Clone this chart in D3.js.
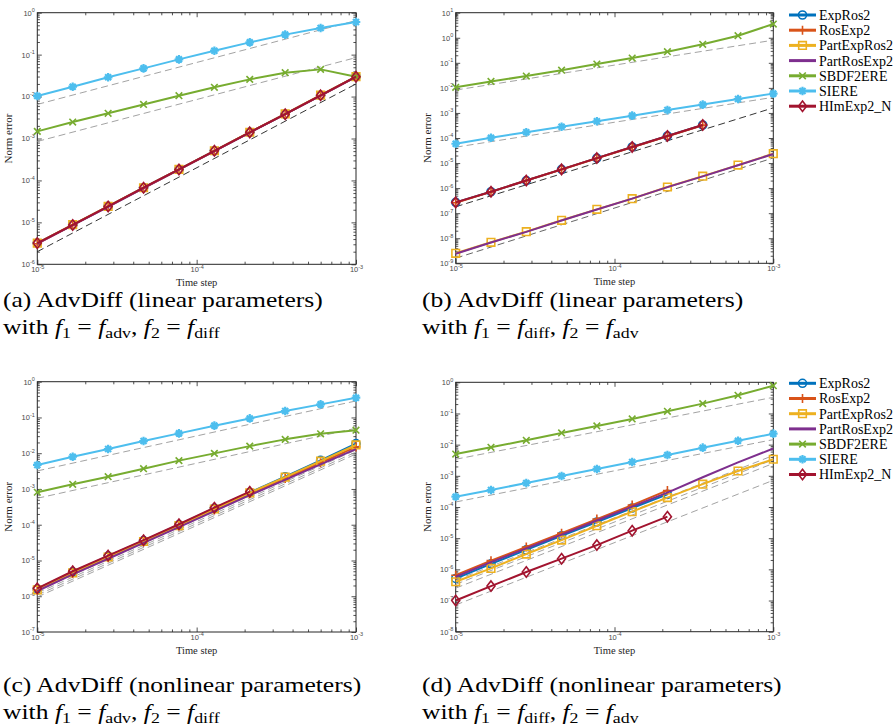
<!DOCTYPE html>
<html>
<head>
<meta charset="utf-8">
<script src="https://cdn.jsdelivr.net/npm/d3@7"></script>
<style>
  body { margin: 0; background: #fff; }
  svg { display: block; }
</style>
</head>
<body>
<svg id="svg" width="896" height="726"></svg>
<script>
// time steps (10 runs, log-spaced between 1e-5 and 1e-3)
const hSteps = [1e-5, 1.668e-5, 2.783e-5, 4.642e-5, 7.743e-5, 1.292e-4, 2.154e-4, 3.594e-4, 5.995e-4, 1e-3];
const hRange = [1e-5, 1e-3];

const methods = ["ExpRos2", "RosExp2", "PartExpRos2", "PartRosExp2", "SBDF2ERE", "SIERE", "HImExp2_N"];
const colors  = ["#0072BD", "#D95319", "#EDB120", "#7E2F8E", "#77AC30", "#4DBEEE", "#A2142F"];
const markers = ["circle", "plus", "square", "none", "cross", "star", "diamond"];

// norm errors, one row per method (same order as methods); short rows = runs that stopped
const errA = [
  [3.2e-6, 8.7e-6, 2.4e-5, 6.7e-5, 1.83e-4, 5.1e-4, 1.4e-3, 3.8e-3, 1.07e-2, 2.98e-2],
  [3.1e-6, 8.6e-6, 2.4e-5, 6.6e-5, 1.82e-4, 5.0e-4, 1.4e-3, 3.8e-3, 1.06e-2, 2.95e-2],
  [3.2e-6, 8.8e-6, 2.4e-5, 6.7e-5, 1.84e-4, 5.1e-4, 1.41e-3, 3.85e-3, 1.08e-2, 3.0e-2],
  [3.1e-6, 8.6e-6, 2.35e-5, 6.6e-5, 1.8e-4, 5.0e-4, 1.38e-3, 3.8e-3, 1.05e-2, 2.95e-2],
  [1.48e-3, 2.47e-3, 3.98e-3, 6.5e-3, 1.05e-2, 1.66e-2, 2.57e-2, 3.7e-2, 4.45e-2, 2.98e-2],
  [1.03e-2, 1.72e-2, 2.88e-2, 4.7e-2, 7.7e-2, 0.124, 0.196, 0.30, 0.43, 0.60],
  [3.2e-6, 8.7e-6, 2.4e-5, 6.7e-5, 1.83e-4, 5.1e-4, 1.4e-3, 3.8e-3, 1.07e-2, 2.98e-2]
];
const errB = [
  [2.7e-7, 7.2e-7, 2.0e-6, 5.6e-6, 1.58e-5, 4.4e-5, 1.2e-4, 3.3e-4],
  [2.6e-7, 7.1e-7, 2.0e-6, 5.5e-6, 1.55e-5, 4.3e-5, 1.18e-4, 3.25e-4],
  [2.5e-9, 6.9e-9, 1.83e-8, 5.2e-8, 1.42e-7, 3.8e-7, 1.11e-6, 3.0e-6, 8.3e-6, 2.37e-5],
  [2.4e-9, 6.8e-9, 1.8e-8, 5.1e-8, 1.4e-7, 3.8e-7, 1.1e-6, 2.95e-6, 8.2e-6, 2.3e-5],
  [1.05e-2, 1.8e-2, 2.96e-2, 5.1e-2, 8.9e-2, 0.155, 0.278, 0.546, 1.21, 3.53],
  [5.9e-5, 1.03e-4, 1.69e-4, 2.8e-4, 4.65e-4, 7.8e-4, 1.3e-3, 2.15e-3, 3.6e-3, 5.9e-3],
  [2.7e-7, 7.2e-7, 2.0e-6, 5.6e-6, 1.58e-5, 4.4e-5, 1.2e-4, 3.3e-4]
];
const errC = [
  [1.6e-6, 4.8e-6, 1.32e-5, 3.6e-5, 1.0e-4, 2.9e-4, 8.0e-4, 2.2e-3, 6.3e-3, 1.85e-2],
  [1.5e-6, 4.4e-6, 1.2e-5, 3.3e-5, 9.2e-5, 2.6e-4, 7.3e-4, 1.95e-3, 5.4e-3, 1.5e-2],
  [1.5e-6, 4.5e-6, 1.25e-5, 3.4e-5, 9.5e-5, 2.75e-4, 7.8e-4, 2.15e-3, 6.0e-3, 1.7e-2],
  [1.4e-6, 4.1e-6, 1.12e-5, 3.1e-5, 8.6e-5, 2.4e-4, 6.7e-4, 1.8e-3, 4.9e-3, 1.3e-2],
  [8.1e-4, 1.35e-3, 2.2e-3, 3.7e-3, 6.2e-3, 9.9e-3, 1.58e-2, 2.44e-2, 3.5e-2, 4.4e-2],
  [4.7e-3, 7.99e-3, 1.31e-2, 2.19e-2, 3.59e-2, 5.9e-2, 9.4e-2, 0.151, 0.232, 0.357],
  [1.66e-6, 5.0e-6, 1.37e-5, 3.7e-5, 1.03e-4, 3.0e-4, 8.4e-4]
];
const errD = [
  [5.1e-7, 1.5e-6, 4.2e-6, 1.2e-5, 3.3e-5, 9.3e-5, 2.55e-4],
  [6.5e-7, 1.9e-6, 5.2e-6, 1.45e-5, 4.1e-5, 1.15e-4, 3.4e-4],
  [4.0e-7, 1.07e-6, 3.1e-6, 8.7e-6, 2.5e-5, 7.1e-5, 2.0e-4, 5.4e-4, 1.43e-3, 3.4e-3],
  [5.8e-7, 1.7e-6, 4.7e-6, 1.3e-5, 3.7e-5, 1.03e-4, 2.9e-4, 9.0e-4, 2.7e-3, 7.5e-3],
  [5.0e-3, 8.2e-3, 1.38e-2, 2.37e-2, 3.98e-2, 6.67e-2, 0.117, 0.207, 0.383, 0.78],
  [2.14e-4, 3.5e-4, 5.9e-4, 9.9e-4, 1.66e-3, 2.78e-3, 4.67e-3, 8.0e-3, 1.34e-2, 2.25e-2],
  [1.0e-7, 2.9e-7, 8.2e-7, 2.2e-6, 6.0e-6, 1.74e-5, 4.9e-5]
];

// dashed reference slopes: error at h=1e-5 and at h=1e-3
const refA = [[6.5e-3, 0.65], [8.5e-4, 0.085], [2.0e-6, 2.0e-2]];
const refB = [[8.2e-3, 0.8], [4.3e-5, 4.2e-3], [1.8e-7, 1.6e-3], [1.6e-9, 1.6e-5]];
const refC = [[3.2e-3, 0.29], [5.5e-4, 0.05], [9.5e-7, 9.5e-3], [1.08e-6, 1.08e-2], [1.23e-6, 1.23e-2], [1.4e-6, 1.4e-2]];
const refD = [[3.4e-3, 0.33], [1.45e-4, 1.45e-2], [4.5e-7, 4.5e-3], [3.3e-7, 3.3e-3], [2.5e-7, 2.5e-3], [7.2e-8, 7.2e-4]];

const captionTitles = ["(a) AdvDiff (linear parameters)", "(b) AdvDiff (linear parameters)",
                       "(c) AdvDiff (nonlinear parameters)", "(d) AdvDiff (nonlinear parameters)"];
const captionSubs = [["adv", "diff"], ["diff", "adv"], ["adv", "diff"], ["diff", "adv"]];

// panel layout
const panels = [
  {err: errA, ref: refA, refShade: ["#999", "#999", "#1e1e1e"], left: 37.3, right: 356, top: 12.7, bottom: 264.3, yLo: -6, yHi: 0, legend: null, cx: 3, cy: 307},
  {err: errB, ref: refB, refShade: ["#999", "#999", "#1e1e1e", "#555"], left: 455.7, right: 773.3, top: 12.7, bottom: 263.3, yLo: -9, yHi: 1, legend: 15, cx: 422, cy: 307},
  {err: errC, ref: refC, refShade: ["#999", "#999", "#999", "#999", "#999", "#999"], left: 37.3, right: 356, top: 381.7, bottom: 632, yLo: -7, yHi: 0, legend: null, cx: 3, cy: 692},
  {err: errD, ref: refD, refShade: ["#999", "#999", "#999", "#999", "#999", "#999"], left: 455.7, right: 773.3, top: 382.3, bottom: 631.7, yLo: -8, yHi: 0, legend: 383.3, cx: 422, cy: 692}
];

const svg = d3.select("#svg");
const SERIF = "'Liberation Serif', 'Times New Roman', serif";
const SANS = "'Liberation Sans', Arial, sans-serif";

function markerPath(type) {
  switch (type) {
    case "circle": return "M4,0A4,4 0 1,1 -4,0A4,4 0 1,1 4,0Z";
    case "square": return "M-3.8,-3.8H3.8V3.8H-3.8Z";
    case "diamond": return "M0,-5.2L4,0L0,5.2L-4,0Z";
    case "plus": return "M-4.5,0H4.5M0,-4.5V4.5";
    case "cross": return "M-3.3,-3.3L3.3,3.3M-3.3,3.3L3.3,-3.3";
    case "star": return "M-4.3,0H4.3M0,-4.3V4.3M-3,-3L3,3M-3,3L3,-3";
  }
  return null;
}

function drawMarker(g, type, color, px, py) {
  const d = markerPath(type);
  if (!d) return;
  g.append("path")
    .attr("d", d)
    .attr("transform", "translate(" + px + "," + py + ")")
    .attr("fill", "none")
    .attr("stroke", color)
    .attr("stroke-width", type === "star" ? 2.2 : 1.6);
}

function decades(lo, hi) {
  return d3.range(lo, hi + 1).map(e => Math.pow(10, e));
}
function minors(lo, hi) {
  const out = [];
  for (let e = lo; e < hi; e++) for (let k = 2; k <= 9; k++) out.push(k * Math.pow(10, e));
  return out;
}

function supLabels(sel) {
  sel.each(function (d) {
    const t = d3.select(this).text(null);
    t.append("tspan").text("10");
    t.append("tspan").attr("dy", -3.5).attr("font-size", "5.5px").text(Math.round(Math.log10(d)));
  });
}

function drawPanel(p) {
  const x = d3.scaleLog().domain(hRange).range([p.left, p.right]);
  const y = d3.scaleLog().domain([Math.pow(10, p.yLo), Math.pow(10, p.yHi)]).range([p.bottom, p.top]);
  const g = svg.append("g");
  const w = p.right - p.left, h = p.bottom - p.top;

  // axes: major + minor ticks on all four sides, pointing inward
  const xMaj = decades(-5, -3), xMin = minors(-5, -3);
  const yMaj = decades(p.yLo, p.yHi), yMin = minors(p.yLo, p.yHi);
  const axes = [
    [d3.axisBottom(x).tickValues(xMaj).tickSizeInner(-4.5), "translate(0," + p.bottom + ")", true],
    [d3.axisBottom(x).tickValues(xMin).tickSizeInner(-2.6).tickFormat(""), "translate(0," + p.bottom + ")", false],
    [d3.axisTop(x).tickValues(xMaj).tickSizeInner(-4.5).tickFormat(""), "translate(0," + p.top + ")", false],
    [d3.axisTop(x).tickValues(xMin).tickSizeInner(-2.6).tickFormat(""), "translate(0," + p.top + ")", false],
    [d3.axisLeft(y).tickValues(yMaj).tickSizeInner(-4.5), "translate(" + p.left + ",0)", true],
    [d3.axisLeft(y).tickValues(yMin).tickSizeInner(-2.6).tickFormat(""), "translate(" + p.left + ",0)", false],
    [d3.axisRight(y).tickValues(yMaj).tickSizeInner(-4.5).tickFormat(""), "translate(" + p.right + ",0)", false],
    [d3.axisRight(y).tickValues(yMin).tickSizeInner(-2.6).tickFormat(""), "translate(" + p.right + ",0)", false]
  ];
  axes.forEach(([ax, tr, labelled]) => {
    const a = g.append("g").attr("transform", tr)
      .call(ax.tickSizeOuter(0).tickPadding(2.5))
      .attr("font-family", SANS).attr("font-size", "7.5px");
    a.select(".domain").remove();
    a.selectAll("line").attr("stroke", "#262626").attr("stroke-width", 0.8);
    a.selectAll("text").attr("fill", "#4a4a4a");
    if (labelled) a.selectAll("text").call(supLabels);
  });

  g.append("rect")
    .attr("x", p.left).attr("y", p.top).attr("width", w).attr("height", h)
    .attr("fill", "none").attr("stroke", "#262626").attr("stroke-width", 1);

  // reference slopes
  p.ref.forEach((r, i) => {
    g.append("line")
      .attr("x1", x(hRange[0])).attr("y1", y(r[0]))
      .attr("x2", x(hRange[1])).attr("y2", y(r[1]))
      .attr("stroke", p.refShade[i]).attr("stroke-width", 0.9)
      .attr("stroke-dasharray", "7,4");
  });

  // series
  const line = d3.line().x(d => x(d[0])).y(d => y(d[1]));
  p.err.forEach((vals, m) => {
    const pts = vals.map((v, i) => [hSteps[i], v]);
    g.append("path")
      .attr("d", line(pts))
      .attr("fill", "none")
      .attr("stroke", colors[m])
      .attr("stroke-width", 2)
      .attr("stroke-linejoin", "round");
    pts.forEach(pt => drawMarker(g, markers[m], colors[m], x(pt[0]), y(pt[1])));
  });

  // axis labels
  g.append("text")
    .attr("transform", "translate(" + (p.left - 25) + "," + ((p.top + p.bottom) / 2) + ") rotate(-90)")
    .attr("text-anchor", "middle").attr("font-family", SERIF).attr("font-size", "11px")
    .attr("fill", "#262626").text("Norm error");
  g.append("text")
    .attr("x", (p.left + p.right) / 2).attr("y", p.bottom + 22)
    .attr("text-anchor", "middle").attr("font-family", SERIF).attr("font-size", "10.5px")
    .attr("fill", "#262626").text("Time step");

  // legend
  if (p.legend !== null) {
    const lg = svg.append("g");
    methods.forEach((name, m) => {
      const ly = p.legend + m * 15.2;
      lg.append("line").attr("x1", 789).attr("x2", 816).attr("y1", ly).attr("y2", ly)
        .attr("stroke", colors[m]).attr("stroke-width", 3);
      drawMarker(lg, markers[m], colors[m], 802.5, ly);
      lg.append("text").attr("x", 819).attr("y", ly).attr("dy", "0.35em")
        .attr("font-family", SERIF).attr("font-size", "14px").attr("fill", "#000").text(name);
    });
  }
}

function drawCaption(i, p) {
  const g = svg.append("g")
    .attr("transform", "translate(" + p.cx + "," + p.cy + ") scale(1.19,1)")
    .attr("font-family", SERIF).attr("font-size", "21.5px").attr("fill", "#000");
  g.append("text").text(captionTitles[i]);
  const t = g.append("text").attr("y", 27);
  // pieces of "with f1 = f_a, f2 = f_b": [text, italic, shift]
  const pieces = [
    ["with ", false, 0], ["f", true, 0], ["1", false, 4],
    [" = ", false, -4], ["f", true, 0], [captionSubs[i][0], false, 4],
    [", ", false, -4], ["f", true, 0], ["2", false, 4],
    [" = ", false, -4], ["f", true, 0], [captionSubs[i][1], false, 4]
  ];
  pieces.forEach(([s, it, dy]) => {
    const ts = t.append("tspan").text(s);
    if (it) ts.attr("font-style", "italic");
    if (dy) ts.attr("dy", dy);
    if (dy > 0) ts.attr("font-size", "15px");
  });
}

panels.forEach((p, i) => { drawPanel(p); drawCaption(i, p); });
</script>
</body>
</html>
